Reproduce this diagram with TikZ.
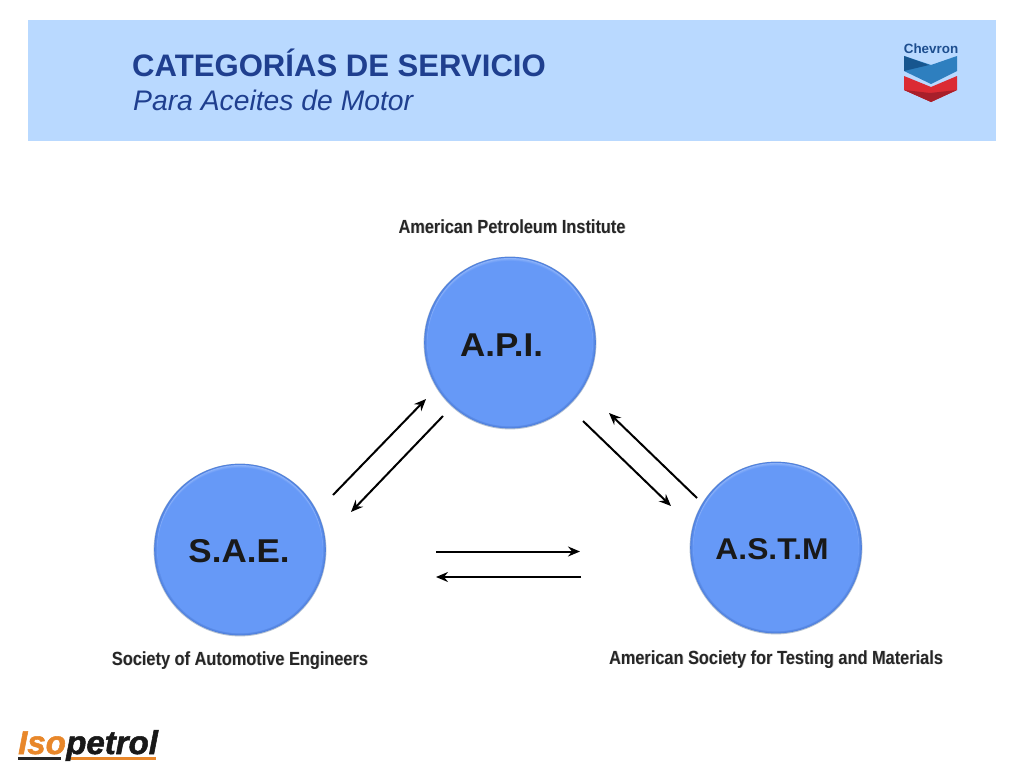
\documentclass[tikz,border=0pt]{standalone}
\usepackage{fontspec}
\setmainfont{Liberation Sans}[BoldItalicFeatures={FakeBold=1.6}]
\usetikzlibrary{arrows.meta,calc}
\definecolor{band}{HTML}{B9D9FF}
\definecolor{ink}{HTML}{1F3F8F}
\definecolor{ball}{HTML}{6699F7}
\definecolor{balledge}{HTML}{5080DC}
\definecolor{ballhi}{HTML}{8FB4FA}
\definecolor{ballrim}{HTML}{B5C2D2}
\definecolor{orng}{HTML}{E8872A}
\definecolor{cvblue}{HTML}{2E7FBF}
\definecolor{cvdark}{HTML}{17568F}
\definecolor{cvred}{HTML}{DB2B33}
\definecolor{cvdred}{HTML}{A81F2A}
\definecolor{cvtext}{HTML}{1D4E8F}
\newcommand{\ballrings}[1]{%
  \fill[ballrim] (#1) circle[radius=86.4pt];
  \foreach \t in {0,1,...,5}{
    \pgfmathsetmacro{\rr}{85.8-0.6*\t}
    \pgfmathsetmacro{\pp}{\t*20}
    \fill[ball!\pp!balledge] ($(#1)+(0,-0.4)$) circle[radius=\rr pt];
  }
  \foreach \t in {0,1,...,5}{
    \pgfmathsetmacro{\pp}{\t*20}
    \pgfmathsetmacro{\dy}{-2.4+0.6*\t}
    \fill[ball!\pp!ballhi] ($(#1)+(0,\dy)$) circle[radius=82.6pt];
  }
}
\tikzset{
  ballnode/.style={circle,minimum size=172pt,inner sep=0pt},
  ballfont/.style={font=\bfseries\fontsize{33}{33}\selectfont,text=black!90,inner sep=0pt,xscale=1.06},
  link/.style={draw=black,line width=2pt,-{Stealth[length=12pt,width=10pt,inset=4pt]}},
  caption/.style={anchor=base,font=\bfseries\fontsize{19}{20}\selectfont,text=black!85,inner sep=0pt,xscale=.86},
  shadowtext/.style={caption,text=black!25},
}
\begin{document}
\begin{tikzpicture}[x=1pt,y=-1pt]
\useasboundingbox (0,0) rectangle (1024,768);
\fill[white] (0,0) rectangle (1024,768);
\fill[band] (28,20) rectangle (996,141);
\node[anchor=base west,inner sep=0pt,text=ink,font=\bfseries\fontsize{31.1}{32}\selectfont] (title) at (132,76) {CATEGORÍAS DE SERVICIO};
\node[anchor=base west,inner sep=0pt,text=ink,font=\itshape\fontsize{28.3}{30}\selectfont] (subtitle) at (133,110) {Para Aceites de Motor};
% Chevron logo
\node[anchor=base,inner sep=0pt,text=cvtext,font=\bfseries\fontsize{13.4}{14}\selectfont] (chev) at (931,54) {Chevron};
\fill[cvblue] (904,56) -- (931,65) -- (957,56) -- (957,71) -- (931,84) -- (904,71) -- cycle;
\fill[cvdark] (904,56) -- (929,65) -- (904,71) -- cycle;
\fill[cvred] (904,76) -- (931,87) -- (957,76) -- (957,90) -- (931,102) -- (904,90) -- cycle;
\fill[cvdred] (904,90) -- (931,102) -- (957,90) -- (930,93) -- cycle;
% balls
\node[ballnode] (api) at (510,343) {};
\node[ballnode] (sae) at (240,550) {};
\node[ballnode] (astm) at (776,548) {};
\ballrings{api}
\ballrings{sae}
\ballrings{astm}
\node[ballfont] (apil) at (501.5,345) {A.P.I.};
\node[ballfont] (sael) at (239,551) {S.A.E.};
\node[ballfont,font=\bfseries\fontsize{30}{30}\selectfont] (astml) at (772,549) {A.S.T.M};
% captions
\node[shadowtext] at (512.7,233.7) {American Petroleum Institute};
\node[caption] (capi) at (512,233) {American Petroleum Institute};
\node[shadowtext] at (240.7,665.7) {Society of Automotive Engineers};
\node[caption] (csae) at (240,665) {Society of Automotive Engineers};
\node[shadowtext] at (776.7,664.7) {American Society for Testing and Materials};
\node[caption] (castm) at (776,664) {American Society for Testing and Materials};
% connectors
\coordinate (a1) at (333,495); \coordinate (a2) at (426,399);
\coordinate (b1) at (443,416); \coordinate (b2) at (351,512);
\coordinate (c1) at (583,421); \coordinate (c2) at (671,506);
\coordinate (d1) at (697,498); \coordinate (d2) at (609,413);
\coordinate (e1) at (436,551.5); \coordinate (e2) at (580,551.5);
\coordinate (f1) at (581,577); \coordinate (f2) at (436,577);
\draw[link] (a1) -- (a2);
\draw[link] (b1) -- (b2);
\draw[link] (c1) -- (c2);
\draw[link] (d1) -- (d2);
\draw[link] (e1) -- (e2);
\draw[link] (f1) -- (f2);
% Isopetrol logo
\node[anchor=base west,inner sep=0pt,text=orng,font=\bfseries\itshape\fontsize{33}{33}\selectfont] (iso) at (18,754) {Iso};
\node[anchor=base west,inner sep=0pt,text=black!90,font=\bfseries\itshape\fontsize{33}{33}\selectfont] (petrol) at (iso.base east) {petrol};
\fill[black!85] (18,757) rectangle (61,760);
\fill[orng] (71,757) rectangle (156,760);
\end{tikzpicture}
\end{document}
